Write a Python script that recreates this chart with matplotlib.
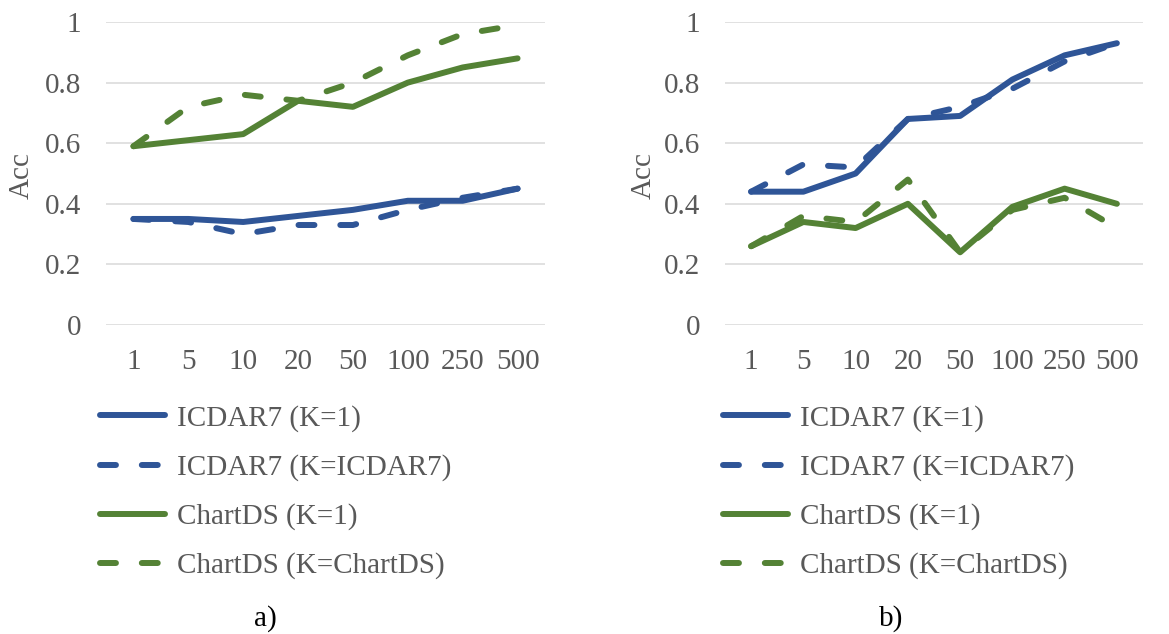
import matplotlib
matplotlib.use("Agg")
import matplotlib.pyplot as plt
from matplotlib.lines import Line2D

categories = ["1", "5", "10", "20", "50", "100", "250", "500"]

# Panel a)
a_icdar_k1 = [0.35, 0.35, 0.34, 0.36, 0.38, 0.41, 0.41, 0.45]
a_icdar_kicdar = [0.35, 0.34, 0.30, 0.33, 0.33, 0.38, 0.42, 0.45]
a_chart_k1 = [0.59, 0.61, 0.63, 0.74, 0.72, 0.80, 0.85, 0.88]
a_chart_kchart = [0.59, 0.72, 0.76, 0.74, 0.80, 0.89, 0.96, 0.99]

# Panel b)
b_icdar_k1 = [0.44, 0.44, 0.50, 0.68, 0.69, 0.81, 0.89, 0.93]
b_icdar_kicdar = [0.44, 0.53, 0.52, 0.68, 0.72, 0.78, 0.87, 0.93]
b_chart_k1 = [0.26, 0.34, 0.32, 0.40, 0.24, 0.39, 0.45, 0.40]
b_chart_kchart = [0.26, 0.36, 0.34, 0.48, 0.24, 0.38, 0.42, 0.32]

series_labels = ["ICDAR7 (K=1)", "ICDAR7 (K=ICDAR7)", "ChartDS (K=1)", "ChartDS (K=ChartDS)"]
y_ticks = [0, 0.2, 0.4, 0.6, 0.8, 1.0]
y_tick_labels = ["0", "0.2", "0.4", "0.6", "0.8", "1"]

BLUE = "#2F5597"
GREEN = "#548235"
GRID = "#D9D9D9"
TXT = "#595959"
FS = 21
LW = 4.3
DASH = (2.67, 4.33)

plt.rcParams["font.family"] = ["Liberation Serif", "DejaVu Serif"]

W, H = 1169, 634
fig = plt.figure(figsize=(W / 100, H / 100), dpi=100)


def px_axes(x0, x1, ytop, ybot):
    return fig.add_axes([x0 / W, 1 - ybot / H, (x1 - x0) / W, (ybot - ytop) / H])


def draw_panel(ax, data, ylabel_x, legend_x, caption, caption_x):
    x = list(range(len(categories)))
    styles = [(BLUE, None), (BLUE, DASH), (GREEN, None), (GREEN, DASH)]
    handles = []
    for vals, (col, dash), lab in zip(data, styles, series_labels):
        kw = dict(color=col, lw=LW, solid_capstyle="round", dash_capstyle="round",
                  solid_joinstyle="round", dash_joinstyle="round", clip_on=False, zorder=3)
        if dash is not None:
            kw["dashes"] = dash
        ax.plot(x, vals, **kw)
        hk = dict(color=col, lw=LW, solid_capstyle="round", dash_capstyle="round")
        if dash is not None:
            hk["dashes"] = dash
        handles.append(Line2D([0], [0], **hk))
    ax.set_xlim(-0.5, len(categories) - 0.5)
    ax.set_ylim(0, 1)
    ax.set_yticks(y_ticks)
    ax.set_yticklabels(y_tick_labels)
    ax.set_xticks(x)
    ax.set_xticklabels(categories)
    ax.grid(axis="y", color=GRID, lw=1.1, zorder=0)
    ax.set_axisbelow(True)
    for s in ax.spines.values():
        s.set_visible(False)
    ax.tick_params(axis="both", length=0, labelsize=FS, colors=TXT)
    ax.tick_params(axis="y", pad=18)
    ax.tick_params(axis="x", pad=17)
    fig.text(ylabel_x / W, 1 - 175 / H, "Acc", rotation=90, ha="center", va="center",
             fontsize=FS, color=TXT)
    fig.legend(handles, series_labels, loc="upper left",
               bbox_to_anchor=(legend_x / W, 1 - 405 / H), frameon=False,
               fontsize=FS, handlelength=2.24, handletextpad=0.4, labelspacing=0.76,
               borderpad=0, borderaxespad=0, labelcolor=TXT)
    fig.text(caption_x / W, 1 - 619 / H, caption, ha="center", va="center",
             fontsize=FS, color="black")


ax1 = px_axes(106, 545, 22, 325)
draw_panel(ax1, [a_icdar_k1, a_icdar_kicdar, a_chart_k1, a_chart_kchart], 22, 100, "a)", 265)

ax2 = px_axes(725, 1143, 22, 325)
draw_panel(ax2, [b_icdar_k1, b_icdar_kicdar, b_chart_k1, b_chart_kchart], 644, 723, "b)", 891)

fig.savefig("out.png", dpi=100)
